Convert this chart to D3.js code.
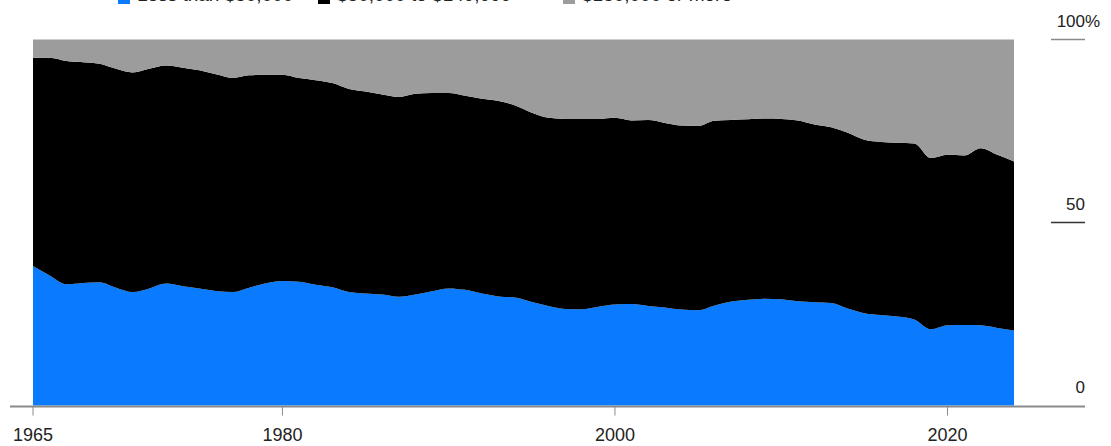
<!DOCTYPE html>
<html>
<head>
<meta charset="utf-8">
<script src="https://cdn.jsdelivr.net/npm/d3@7"></script>
<style>
  body { margin: 0; background: #fff; }
  svg { display: block; font-family: "Liberation Sans", Arial, sans-serif; }
</style>
</head>
<body>
<svg id="chart"></svg>
<script>
// Share of households by income bracket, 1965-2024 (percent)
const years = d3.range(1965, 2025);

const lessThan50k = [
  38.1, 35.5, 33.1, 33.5, 33.7, 32.2, 31.0, 32.0, 33.3, 32.6,
  32.0, 31.3, 31.0, 32.2, 33.4, 34.0, 33.8, 33.0, 32.3, 31.0,
  30.6, 30.3, 29.7, 30.3, 31.2, 32.0, 31.6, 30.6, 29.8, 29.5,
  28.3, 27.2, 26.4, 26.3, 27.0, 27.6, 27.7, 27.2, 26.8, 26.2,
  26.0, 27.3, 28.4, 28.9, 29.2, 29.0, 28.5, 28.2, 28.0, 26.5,
  25.2, 24.7, 24.3, 23.5, 20.8, 21.9, 22.0, 21.9, 21.2, 20.5
];

const from50kTo150k = [
  56.9, 59.5, 61.0, 60.3, 59.7, 59.8, 60.0, 60.0, 59.6, 59.7,
  59.6, 59.2, 58.5, 58.0, 57.0, 56.4, 55.7, 55.9, 55.8, 55.5,
  55.2, 54.7, 54.6, 54.9, 54.2, 53.4, 53.0, 53.2, 53.4, 52.5,
  51.7, 51.4, 51.9, 52.0, 51.3, 51.0, 50.2, 50.8, 50.4, 50.3,
  50.4, 50.5, 49.6, 49.3, 49.2, 49.3, 49.4, 48.6, 48.0, 48.0,
  47.4, 47.3, 47.5, 48.1, 46.8, 46.6, 46.3, 48.4, 47.3, 46.2
];

const over150k = [
   5.0,  5.0,  5.9,  6.2,  6.6,  8.0,  9.0,  8.0,  7.1,  7.7,
   8.4,  9.5, 10.5,  9.8,  9.6,  9.6, 10.5, 11.1, 11.9, 13.5,
  14.2, 15.0, 15.7, 14.8, 14.6, 14.6, 15.4, 16.2, 16.8, 18.0,
  20.0, 21.4, 21.7, 21.7, 21.7, 21.4, 22.1, 22.0, 22.8, 23.5,
  23.6, 22.2, 22.0, 21.8, 21.6, 21.7, 22.1, 23.2, 24.0, 25.5,
  27.4, 28.0, 28.2, 28.4, 32.4, 31.5, 31.7, 29.7, 31.5, 33.3
];

const seriesKeys = ["low", "mid", "high"];
const seriesLabels = ["Less than $50,000", "$50,000 to $149,999", "$150,000 or more"];
const seriesColors = ["#0a7bff", "#000000", "#9c9c9c"];

const xTicks = [1965, 1980, 2000, 2020];
const yTicks = [0, 50, 100];

// build rows for the stack
const rows = years.map((yr, i) => ({
  year: yr,
  low: lessThan50k[i],
  mid: from50kTo150k[i],
  high: over150k[i]
}));

const width = 1111;
const height = 446;

const svg = d3.select("#chart")
  .attr("width", width)
  .attr("height", height);

const x = d3.scaleLinear().domain([1965, 2024]).range([33, 1014]);
const y = d3.scaleLinear().domain([0, 100]).range([405.5, 39.5]);

const stack = d3.stack().keys(seriesKeys);
const layers = stack(rows);

const area = d3.area()
  .x(d => x(d.data.year))
  .y0(d => y(d[0]))
  .y1(d => y(d[1]))
  .curve(d3.curveMonotoneX);

svg.append("g")
  .selectAll("path")
  .data(layers)
  .enter()
  .append("path")
  .attr("d", area)
  .attr("fill", (d, i) => seriesColors[i]);

// baseline
svg.append("line")
  .attr("x1", 10).attr("x2", 1085)
  .attr("y1", y(0) + 1).attr("y2", y(0) + 1)
  .attr("stroke", "#8a8a8a")
  .attr("stroke-width", 2);

// x ticks + labels
const xAxis = svg.append("g");
xAxis.selectAll("line")
  .data(xTicks)
  .enter().append("line")
  .attr("x1", d => x(d)).attr("x2", d => x(d))
  .attr("y1", y(0) + 1).attr("y2", y(0) + 10)
  .attr("stroke", "#8a8a8a")
  .attr("stroke-width", 1);

xAxis.selectAll("text")
  .data(xTicks)
  .enter().append("text")
  .attr("x", d => x(d))
  .attr("y", 441)
  .attr("text-anchor", "middle")
  .style("font-size", "18px")
  .attr("fill", "#222")
  .text(d => d);

// right y labels
const yAxis = svg.append("g");
yAxis.selectAll("line")
  .data(yTicks.filter(d => d > 0))
  .enter().append("line")
  .attr("x1", 1051).attr("x2", 1085)
  .attr("y1", d => y(d)).attr("y2", d => y(d))
  .attr("stroke", d => d === 100 ? "#8a8a8a" : "#333")
  .attr("stroke-width", 1.5);

yAxis.selectAll("text")
  .data(yTicks)
  .enter().append("text")
  .attr("x", 1085)
  .attr("y", d => y(d) - 13)
  .attr("text-anchor", "end")
  .style("font-size", "17px")
  .attr("fill", "#222")
  .text(d => d);

// the % hangs past the right edge of the numbers
yAxis.append("text")
  .attr("x", 1085)
  .attr("y", y(100) - 13)
  .style("font-size", "17px")
  .attr("fill", "#222")
  .text("%");

// legend, mostly clipped at the top edge as in the source
const legend = svg.append("g").attr("transform", "translate(118,0)");
const legendX = [0, 200, 445];
const item = legend.selectAll("g")
  .data(seriesLabels)
  .enter().append("g")
  .attr("transform", (d, i) => `translate(${legendX[i]},0)`);

item.append("rect")
  .attr("x", 0).attr("y", -9)
  .attr("width", 12).attr("height", 13)
  .attr("fill", (d, i) => seriesColors[i]);

item.append("text")
  .attr("x", 19)
  .attr("y", 1)
  .style("font-size", "19px")
  .attr("fill", "#222")
  .text(d => d);
</script>
</body>
</html>
